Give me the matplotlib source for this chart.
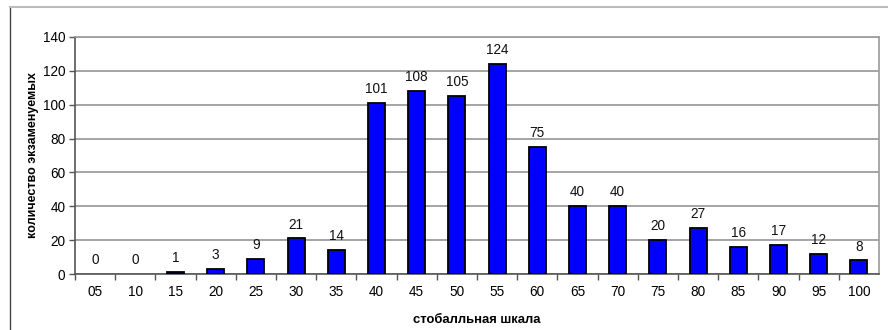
import matplotlib.pyplot as plt
from matplotlib.lines import Line2D

# данные
categories = ['05', '10', '15', '20', '25', '30', '35', '40', '45', '50',
              '55', '60', '65', '70', '75', '80', '85', '90', '95', '100']
counts = [0, 0, 1, 3, 9, 21, 14, 101, 108, 105,
          124, 75, 40, 40, 20, 27, 16, 17, 12, 8]

plt.rcParams['font.family'] = ['Liberation Sans', 'DejaVu Sans']

W, H = 888, 330
fig = plt.figure(figsize=(W / 100, H / 100), dpi=100)
ax = fig.add_axes([75 / W, 1 - 274 / H, (879 - 75) / W, (274 - 37) / H])

x = list(range(len(categories)))
bars = ax.bar(x, counts, width=0.42, color='#0000FF', edgecolor='black',
              linewidth=1.3, zorder=3)
for b, v in zip(bars, counts):
    if v == 0:
        b.set_linewidth(0)

for xi, v in zip(x, counts):
    ax.annotate(str(v), (xi, v), xytext=(0, 5), textcoords='offset points',
                ha='center', va='bottom', fontsize=9.8, color='#111111')

ax.set_xlim(-0.5, len(categories) - 0.5)
ax.set_ylim(0, 140)
ax.set_yticks(range(0, 141, 20))
ax.yaxis.grid(True, color='#8c8c8c', linewidth=1.1, zorder=0)
ax.set_axisbelow(True)

ax.set_xticks(x)
ax.set_xticklabels(categories)
ax.set_xticks([i + 0.5 for i in x[:-1]] + [-0.5], minor=True)
ax.tick_params(axis='x', which='major', length=0, pad=8, labelsize=9.8)
ax.tick_params(axis='x', which='minor', length=4, width=1, color='#555555')
ax.tick_params(axis='y', length=4, width=1, color='#555555', labelsize=9.8, pad=3)

for side in ['top', 'right']:
    ax.spines[side].set_color('#9a9a9a')
    ax.spines[side].set_linewidth(1.2)
for side in ['left', 'bottom']:
    ax.spines[side].set_color('#555555')
    ax.spines[side].set_linewidth(1.2)

ax.set_ylabel('количество экзаменуемых', fontsize=9, fontweight='bold', labelpad=3)
ax.set_xlabel('стобалльная шкала', fontsize=9.4, fontweight='bold', labelpad=11)

# рамка диаграммы
fig.add_artist(Line2D([10 / W, 10 / W], [0, 1 - 7 / H], transform=fig.transFigure,
                      color='#444444', linewidth=1))
fig.add_artist(Line2D([10 / W, 1], [1 - 7 / H, 1 - 7 / H], transform=fig.transFigure,
                      color='#bbbbbb', linewidth=1.5))

fig.savefig('out.png', dpi=100)
